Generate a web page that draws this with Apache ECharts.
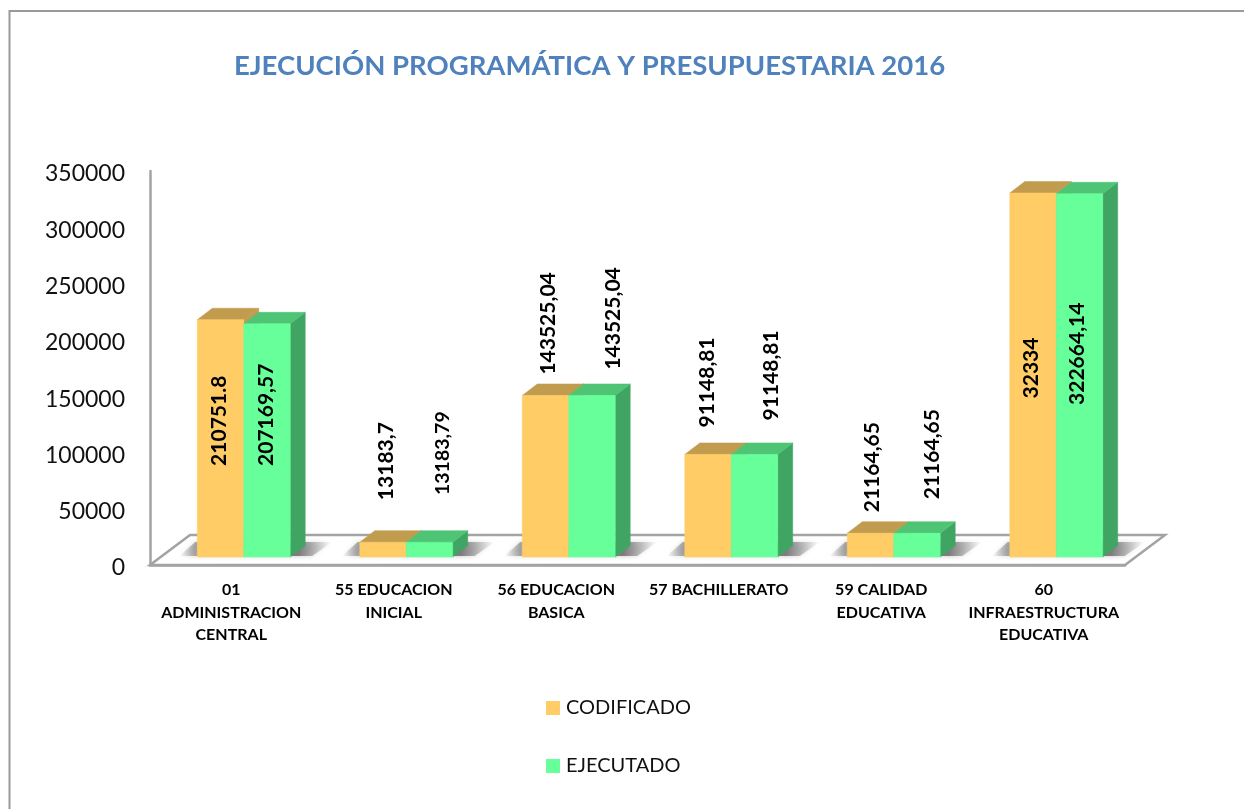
<!DOCTYPE html>
<html>
<head>
<meta charset="utf-8">
<style>html,body{margin:0;padding:0;background:#fff}#c{width:1244px;height:809px}</style>
<script src="https://cdn.jsdelivr.net/npm/echarts@6/dist/echarts.min.js"></script>
</head>
<body>
<div id="c"></div>
<script>
const categories = ['01\nADMINISTRACION\nCENTRAL','55 EDUCACION\nINICIAL','56 EDUCACION\nBASICA','57 BACHILLERATO','59 CALIDAD\nEDUCATIVA','60\nINFRAESTRUCTURA\nEDUCATIVA'];
const codificado = [210751.8, 13183.7, 143525.04, 91148.81, 21164.65, 323340];
const ejecutado = [207169.57, 13183.79, 143525.04, 91148.81, 21164.65, 322664.14];
const codificadoLabels = ['210751.8','13183,7','143525,04','91148,81','21164,65','32334'];
const ejecutadoLabels = ['207169,57','13183,79','143525,04','91148,81','21164,65','322664,14'];

// layout of the hand-placed data labels, relative to each bar's front-top centre
const codificadoLabelShift = [[-1.5,101],[3,-81],[2.5,-72],[-1,-72],[1.5,-66],[-2,175]];
const ejecutadoLabelShift = [[-1,91],[13.5,-89],[21,-77],[16.5,-79],[15,-79],[-2.5,160]];
const ejecutadoLabelSize = [21,19.5,21,21,21,21];

const FONT = 'Lato';
const DX = 12.5, DY = -8, DEPTH_X = 15, DEPTH_Y = -11.5, BAR_FRAC = 0.286;
const FLOOR_X = 40, FLOOR_Y = 30;

function poly(points, fill, z2) {
  return {type:'polygon', z2:z2||0, shape:{points:points}, style:{fill:fill, stroke:fill, lineWidth:0.5}};
}

function barRenderer(side, colors, labels, shifts, sizes) {
  return function (params, api) {
    const i = api.value(0), v = api.value(1);
    const top = api.coord([i, v]), base = api.coord([i, 0]);
    const w = api.size([1, 0])[0] * BAR_FRAC;
    const c = top[0] + DX;
    const x0 = side < 0 ? c - w : c, x1 = side < 0 ? c : c + w;
    const yT = top[1] + DY, yB = base[1] + DY;
    const s = shifts[i];
    return {type:'group', children:[
      poly([[x1,yT],[x1+DEPTH_X,yT+DEPTH_Y],[x1+DEPTH_X,yB+DEPTH_Y],[x1,yB]], colors.side),
      poly([[x0,yT],[x1,yT],[x1+DEPTH_X,yT+DEPTH_Y],[x0+DEPTH_X,yT+DEPTH_Y]], colors.top),
      poly([[x0,yT],[x1,yT],[x1,yB],[x0,yB]], colors.front),
      {type:'text', z2:10, x:(x0+x1)/2+s[0], y:yT+s[1], rotation:Math.PI/2,
        style:{text:labels[i], fill:'#000', font:'bold '+(sizes?sizes[i]:21)+'px '+FONT, align:'center', verticalAlign:'middle'}}
    ]};
  };
}

function floorRenderer(params) {
  const g = params.coordSys;
  const xL = g.x, xR = g.x + g.width, y = g.y + g.height;
  return {type:'polygon', shape:{points:[[xL,y],[xL+FLOOR_X,y-FLOOR_Y],[xR+FLOOR_X,y-FLOOR_Y],[xR,y]]},
    style:{fill:'#fff', stroke:'#a3a3a3', lineWidth:2.5}};
}

function shadowRenderer(params, api) {
  const i = api.value(0);
  const base = api.coord([i, 0]);
  const w = api.size([1, 0])[0] * BAR_FRAC;
  const c = base[0] + DX, yB = base[1] + DY;
  const x0 = c - w, x1 = c + w;
  return {type:'polygon', shape:{points:[[x0-18,yB-1],[x0-2,yB-15],[x1+42,yB-15],[x1+22,yB-1]]},
    style:{fill:{type:'linear',x:0,y:0,x2:1,y2:0,colorStops:[
      {offset:0,color:'rgba(150,150,150,0)'},{offset:0.1,color:'rgba(140,140,140,0.7)'},
      {offset:0.78,color:'rgba(120,120,120,0.95)'},{offset:1,color:'rgba(150,150,150,0)'}]},
      shadowBlur:5, shadowColor:'rgba(150,150,150,0.6)'}};
}

const chart = echarts.init(document.getElementById('c'), null, {renderer:'canvas'});
chart.setOption({
  animation:false,
  backgroundColor:'#fff',
  title:{text:'EJECUCIÓN PROGRAMÁTICA Y PRESUPUESTARIA 2016', left:229, top:47,
    textStyle:{color:'#4F81BD', fontFamily:FONT, fontWeight:'bold', fontSize:27.5}},
  legend:{orient:'vertical', left:541, top:693, itemWidth:14, itemHeight:14, itemGap:38, icon:'rect',
    data:['CODIFICADO','EJECUTADO'], textStyle:{color:'#111', fontFamily:FONT, fontSize:20, padding:[2,0,0,1]}},
  grid:{left:150, top:171, width:975, height:394},
  xAxis:{type:'category', data:categories,
    axisLine:{show:true, lineStyle:{color:'#a3a3a3', width:2.5}}, axisTick:{show:false},
    axisLabel:{interval:0, margin:14, color:'#000', fontFamily:FONT, fontWeight:'bold', fontSize:16, lineHeight:22.5}},
  yAxis:{type:'value', min:0, max:350000, interval:50000, splitLine:{show:false}, axisTick:{show:false},
    axisLine:{show:true, lineStyle:{color:'#a3a3a3', width:2.5}},
    axisLabel:{margin:25, color:'#111', fontFamily:FONT, fontSize:23, verticalAlign:'top', lineHeight:6, formatter:function(v){return String(v);}}},
  graphic:[
    {type:'polyline', silent:true, shape:{points:[[9.5,809],[9.5,11],[1244,11]]}, style:{fill:'none', stroke:'#999', lineWidth:2}}
  ],
  series:[
    {type:'custom', name:'floor', z:1, silent:true, renderItem:floorRenderer, data:[[0]], encode:{x:0}},
    {type:'custom', name:'shadow', z:1.5, silent:true, renderItem:shadowRenderer, data:categories.map((c,i)=>[i]), encode:{x:0}},
    {type:'custom', name:'CODIFICADO', z:2, itemStyle:{color:'#FFCC66'},
      renderItem:barRenderer(-1,{front:'#FFCC66',top:'#C29C4E',side:'#C29C4E'},codificadoLabels,codificadoLabelShift),
      data:codificado.map((v,i)=>[i,v]), encode:{x:0,y:1}},
    {type:'custom', name:'EJECUTADO', z:3, itemStyle:{color:'#66FF99'},
      renderItem:barRenderer(1,{front:'#66FF99',top:'#4EC474',side:'#40A563'},ejecutadoLabels,ejecutadoLabelShift,ejecutadoLabelSize),
      data:ejecutado.map((v,i)=>[i,v]), encode:{x:0,y:1}}
  ]
});
</script>
</body>
</html>
